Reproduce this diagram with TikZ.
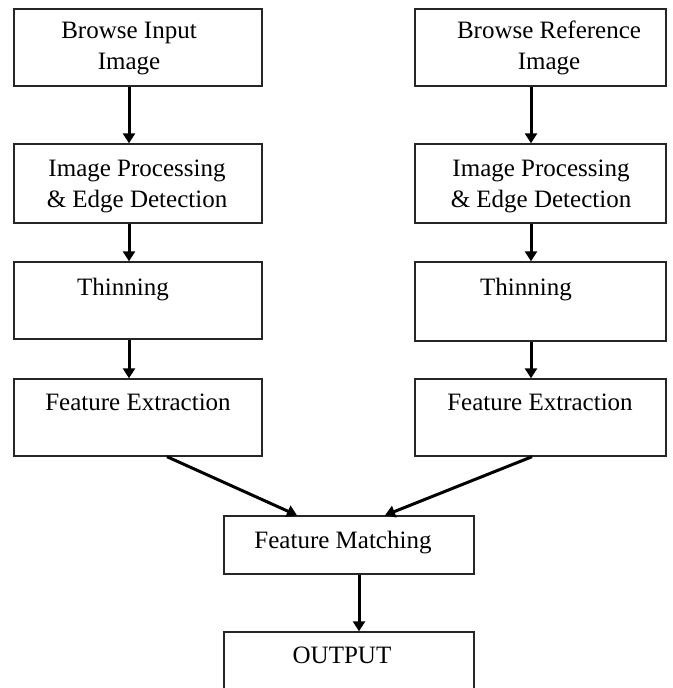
\documentclass[tikz,border=0pt]{standalone}
\usepackage{fontspec}
\setmainfont{Liberation Serif}
\usetikzlibrary{arrows.meta}
\tikzset{
  box/.style={draw=black!85, line width=1.4pt, minimum width=#1, inner sep=0pt},
  lbl/.style={anchor=base, align=center, inner sep=0pt, font=\fontsize{25}{31}\selectfont},
  conn/.style={line width=3pt, -{Triangle[width=12pt,length=10pt]}}
}
\begin{document}
\begin{tikzpicture}[x=1pt,y=-1pt]
\useasboundingbox (0,0) rectangle (672,688);
\clip (0,0) rectangle (672,688);
% left column
\node[box=248pt, minimum height=77pt] (l1) at (138,47.5) {};
\node[box=248pt, minimum height=79pt] (l2) at (138,183.5) {};
\node[box=248pt, minimum height=77pt] (l3) at (138,300.5) {};
\node[box=248pt, minimum height=77pt] (l4) at (138,417.5) {};
% right column
\node[box=251pt, minimum height=77pt] (r1) at (540.5,47.5) {};
\node[box=251pt, minimum height=79pt] (r2) at (540.5,183.5) {};
\node[box=251pt, minimum height=79pt] (r3) at (540.5,301.5) {};
\node[box=251pt, minimum height=77pt] (r4) at (540.5,417.5) {};
% bottom
\node[box=250pt, minimum height=58pt] (fm) at (349,545) {};
\node[box=250pt, minimum height=80pt] (out) at (349,672) {};
% labels (multi-line labels anchored at last baseline)
\node[lbl] (tl1) at (129,69) {Browse Input\\Image};
\node[lbl] (tl2) at (137,207) {Image Processing\\\& Edge Detection};
\node[lbl] (tl3) at (123,295) {Thinning};
\node[lbl] (tl4) at (138,410) {Feature Extraction};
\node[lbl] (tr1) at (549,69) {Browse Reference\\Image};
\node[lbl] (tr2) at (541,207) {Image Processing\\\& Edge Detection};
\node[lbl] (tr3) at (526,295) {Thinning};
\node[lbl] (tr4) at (540,410) {Feature Extraction};
\node[lbl] (tfm) at (343,548) {Feature Matching};
\node[lbl] (tout) at (342,663) {OUTPUT};
% connectors
\draw[conn] ([xshift=-9pt]l1.south) -- ([xshift=-9pt]l2.north);
\draw[conn] ([xshift=-9pt]l2.south) -- ([xshift=-9pt]l3.north);
\draw[conn] ([xshift=-9pt]l3.south) -- ([xshift=-9pt]l4.north);
\draw[conn] ([xshift=-9.5pt]r1.south) -- ([xshift=-9.5pt]r2.north);
\draw[conn] ([xshift=-9.5pt]r2.south) -- ([xshift=-9.5pt]r3.north);
\draw[conn] ([xshift=-9.5pt]r3.south) -- ([xshift=-9.5pt]r4.north);
\draw[conn] ([xshift=29pt]l4.south) -- ([xshift=-52pt]fm.north);
\draw[conn] ([xshift=-8.5pt]r4.south) -- ([xshift=36pt]fm.north);
\draw[conn] ([xshift=10pt]fm.south) -- ([xshift=10pt]out.north);
\end{tikzpicture}
\end{document}
